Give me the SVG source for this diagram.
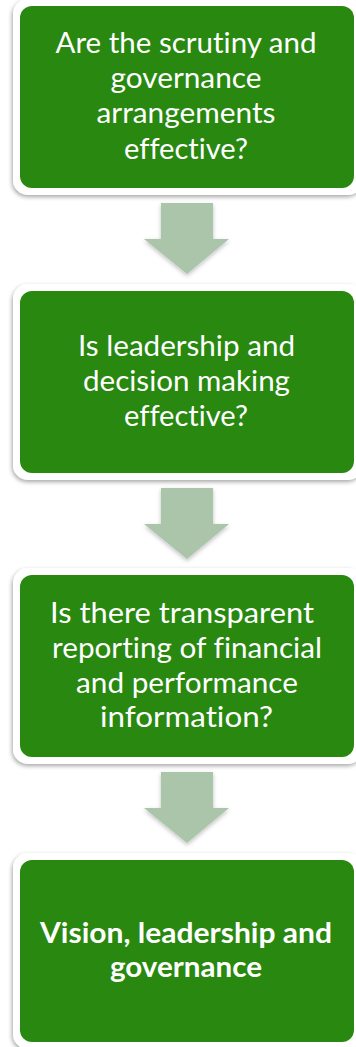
<svg xmlns="http://www.w3.org/2000/svg" width="356" height="1047" viewBox="0 0 356 1047">
<defs>
<filter id="sh" x="-10%" y="-10%" width="120%" height="125%">
<feDropShadow dx="-1" dy="2" stdDeviation="2" flood-color="#000" flood-opacity="0.35"/>
</filter>
<filter id="ash" x="-20%" y="-20%" width="140%" height="140%">
<feDropShadow dx="0" dy="2" stdDeviation="2" flood-color="#000" flood-opacity="0.25"/>
</filter>
<path id="arr" d="M161 0 H213 V36 H229 L187 71 L144 36 H161 Z"/>
</defs>
<style>
.rim{fill:#ffffff;filter:url(#sh)}
.box{fill:#28880f}
.t{font-family:Lato,"Open Sans","Liberation Sans",sans-serif;font-size:29px;fill:#ffffff;text-anchor:middle;font-variant-ligatures:none;font-feature-settings:"liga" 0,"dlig" 0}
.b{font-weight:bold}
.arrow{fill:#aac5aa;filter:url(#ash)}
</style>
<rect width="356" height="1047" fill="#ffffff"/>
<g id="connectors">
<use href="#arr" class="arrow" y="203"/>
<use href="#arr" class="arrow" y="488"/>
<use href="#arr" class="arrow" y="772"/>
</g>
<g id="node1">
<rect class="rim" x="13" y="-1" width="350" height="196" rx="15"/>
<rect class="box" x="20" y="6" width="334" height="182" rx="12"/>
<text class="t" x="186" y="53" textLength="261" lengthAdjust="spacingAndGlyphs">Are the scrutiny and</text>
<text class="t" x="186" y="88" textLength="151" lengthAdjust="spacingAndGlyphs">governance</text>
<text class="t" x="186" y="123" textLength="179" lengthAdjust="spacingAndGlyphs">arrangements</text>
<text class="t" x="186" y="159" textLength="124" lengthAdjust="spacingAndGlyphs">effective?</text>
</g>
<g id="node2">
<rect class="rim" x="13" y="284" width="350" height="196" rx="15"/>
<rect class="box" x="20" y="291" width="334" height="182" rx="12"/>
<text class="t" x="186.5" y="356" textLength="217" lengthAdjust="spacingAndGlyphs">Is leadership and</text>
<text class="t" x="186.5" y="391" textLength="207" lengthAdjust="spacingAndGlyphs">decision making</text>
<text class="t" x="186" y="426" textLength="124" lengthAdjust="spacingAndGlyphs">effective?</text>
</g>
<g id="node3">
<rect class="rim" x="13" y="568" width="350" height="196" rx="15"/>
<rect class="box" x="20" y="575" width="334" height="182" rx="12"/>
<text class="t" x="182" y="623" textLength="264" lengthAdjust="spacingAndGlyphs">Is there transparent</text>
<text class="t" x="187" y="658" textLength="270" lengthAdjust="spacingAndGlyphs">reporting of financial</text>
<text class="t" x="187" y="693" textLength="222" lengthAdjust="spacingAndGlyphs">and performance</text>
<text class="t" x="186.5" y="727" textLength="173" lengthAdjust="spacingAndGlyphs">information?</text>
</g>
<g id="node4">
<rect class="rim" x="13" y="853" width="350" height="196" rx="15"/>
<rect class="box" x="20" y="860" width="334" height="182" rx="12"/>
<text class="t b" x="186" y="943" textLength="292" lengthAdjust="spacingAndGlyphs">Vision, leadership and</text>
<text class="t b" x="186" y="977" textLength="152" lengthAdjust="spacingAndGlyphs">governance</text>
</g>
</svg>
